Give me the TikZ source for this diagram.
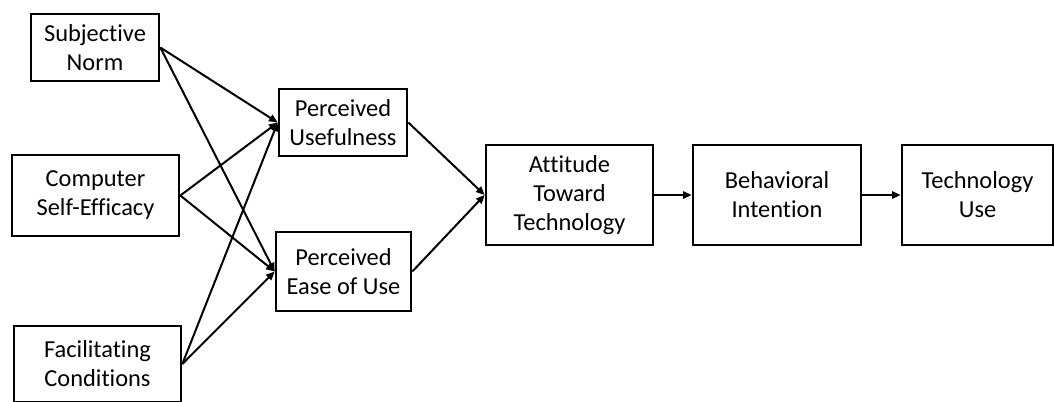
\documentclass[tikz,border=0pt]{standalone}
\usepackage{fontspec}
\setmainfont{Carlito}[Ligatures=NoCommon]
\usetikzlibrary{arrows.meta}
\begin{document}
\begin{tikzpicture}[x=0.75pt,y=-0.75pt,
  box/.style={draw=black, line width=2pt, fill=white, inner sep=0pt, align=center,
    font=\fontsize{18.3}{21.7}\selectfont},
  conn/.style={line width=1.5pt, -{Triangle[length=6.5pt,width=5.5pt]}}]
\useasboundingbox (0,0) rectangle (1054,401);
\clip (0,0) rectangle (1054,401);
\node[box, minimum width=96pt, minimum height=50.25pt] (sn) at (95,47.5) {Subjective\\Norm};
\node[box, minimum width=125.25pt, minimum height=60.75pt] (cse) at (95.5,195.5) {Computer\\Self-Efficacy};
\node[box, minimum width=125.25pt, minimum height=57pt] (fc) at (97.5,364) {Facilitating\\Conditions};
\node[box, minimum width=96pt, minimum height=50.25pt] (pu) at (343,122.5) {Perceived\\Usefulness};
\node[box, minimum width=101.25pt, minimum height=59.25pt] (peou) at (343.5,271.5) {Perceived\\Ease of Use};
\node[box, minimum width=125.25pt, minimum height=75pt] (att) at (569.5,195) {Attitude\\Toward\\Technology};
\node[box, minimum width=126pt, minimum height=75pt] (bi) at (777,195) {Behavioral\\Intention};
\node[box, minimum width=113.25pt, minimum height=75pt] (tu) at (977.5,195) {Technology\\Use};
\draw[conn] (sn.east) -- (pu.west);
\draw[conn] (sn.east) -- (peou.west);
\draw[conn] (cse.east) -- (pu.west);
\draw[conn] (cse.east) -- (peou.west);
\draw[conn] (fc.east) -- (pu.west);
\draw[conn] (fc.east) -- (peou.west);
\draw[conn] (pu.east) -- (att.west);
\draw[conn] (peou.east) -- (att.west);
\draw[conn] (att.east) -- (bi.west);
\draw[conn] (bi.east) -- (tu.west);
\end{tikzpicture}
\end{document}
